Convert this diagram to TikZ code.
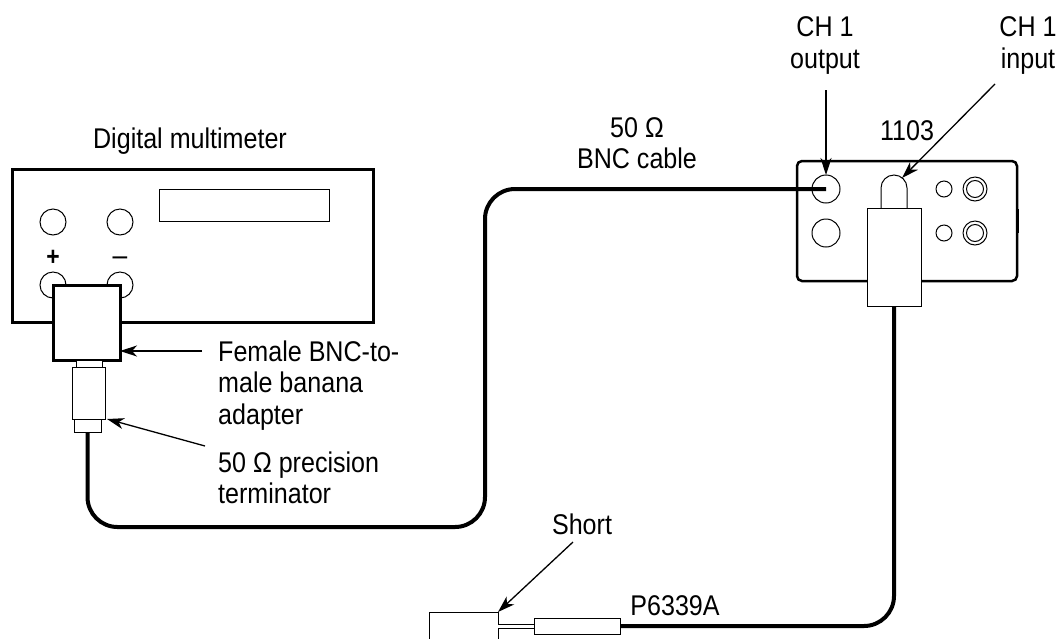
\documentclass[tikz,border=0pt]{standalone}
\usepackage{fontspec}
\setmainfont{Liberation Sans}[FakeStretch=0.88]
\usetikzlibrary{positioning}
\usetikzlibrary{arrows.meta}
\tikzset{
    boxthick/.style = {rectangle, line width=3pt, draw=black, fill=white, inner sep=0pt, outer sep=0pt},
    boxthin/.style = {rectangle, line width=1pt, draw=black, fill=white, inner sep=0pt, outer sep=0pt},
    jack/.style = {circle, line width=1pt, draw=black, fill=white, inner sep=0pt, outer sep=0pt},
    lbl/.style = {font=\fontsize{28.5}{31.5}\selectfont, align=center, inner sep=0pt, anchor=base},
    lbll/.style = {font=\fontsize{28.5}{31.5}\selectfont, align=left, inner sep=0pt, anchor=base west},
    cablen/.style = {-, line width=4pt, black, rounded corners=30pt},
    wiren/.style = {-, line width=1pt, black},
    pointer/.style = {-{Stealth[length=17pt,width=11pt,inset=5pt]}, line width=1.3pt, black}
}

\begin{document}
\begin{tikzpicture}[x=1pt,y=-1pt]
\useasboundingbox (0,0) rectangle (1059,638);
\clip (0,0) rectangle (1059,638);

% digital multimeter
\node[boxthick, minimum width=361pt, minimum height=153pt] at (192.5,245.5) (dmm) {};
\node[boxthin, minimum width=170pt, minimum height=32pt] at (244,205) (display) {};
\node[jack, minimum size=26pt] at ( 53,222) (jp1) {};
\node[jack, minimum size=26pt] at (120,222) (jm1) {};
\node[jack, minimum size=26pt] at ( 53,285) (jp2) {};
\node[jack, minimum size=26pt] at (120,285) (jm2) {};
\node[lbl, font=\fontsize{26}{28}\selectfont\bfseries] at ( 53,265) (plus) {+};
\node[lbl, font=\fontsize{30}{30}\selectfont] at (120,265) (minus) {\symbol{"2013}};
\node[boxthick, minimum width=67pt, minimum height=75pt] at (86.5,322.5) (adapter) {};
\node[boxthin, minimum width=26pt, minimum height=7pt] at (89,363.5) (neck) {};
\node[boxthin, minimum width=33pt, minimum height=52pt] at (88.5,393) (term) {};
\node[boxthin, minimum width=27pt, minimum height=13pt] at (87.5,425.5) (termtip) {};

% 1103
\node[boxthick, line width=2.5pt, rounded corners=5pt, minimum width=220pt, minimum height=120pt] at (907,221) (tek) {};
\draw[line width=2pt] ([xshift=1pt]tek.east) ++(0,-12) -- ++(0,24);
\node[jack, minimum size=28pt] at (826,189) (out) {};
\node[jack, minimum size=28pt] at (826,233) (outlow) {};
\node[jack, minimum size=16pt] at (944,189) (s1) {};
\node[jack, minimum size=16pt] at (944,233) (s2) {};
\node[jack, minimum size=24pt] at (975,189) (d1) {};
\node[jack, minimum size=17pt] at (975,189) (d1i) {};
\node[jack, minimum size=24pt] at (975,233) (d2) {};
\node[jack, minimum size=17pt] at (975,233) (d2i) {};
\draw[wiren, fill=white] (881,210) -- (881,188) arc[start angle=180, end angle=0, radius=13pt] -- (907,210);
\coordinate (intop) at (902,178);
\node[boxthin, minimum width=54pt, minimum height=98pt] at (894,257) (probe) {};

% probe tip and short
\node[boxthin, minimum width=86pt, minimum height=16pt] at (577,626) (tip) {};
\node[boxthin, minimum width=69pt, minimum height=44pt] at (463.5,634) (short) {};
\draw[wiren, double distance=3pt] (tip.west) -- (tip.west -| short.east);

% cables
\coordinate (bend) at (485,527);
\draw[cablen] (termtip.south) |- (bend) |- (out.center);
\draw[cablen] (probe.south) |- (tip.east);

% labels
\node[lbl] at (190,148) (ldmm) {Digital multimeter};
\node[lbl] at (825,68) (lout) {CH 1\\output};
\node[lbl] at (1028,68) (lin) {CH 1\\input};
\node[lbl] at (907,140) (ltek) {1103};
\node[lbl] at (637,168.5) (lcable) {50 Ω\\BNC cable};
\node[lbll] at (218,424) (lfem) {Female BNC-to-\\male banana\\adapter};
\node[lbll] at (218,503.5) (lterm) {50 Ω precision\\terminator};
\node[lbl] at (582,534) (lshort) {Short};
\node[lbl] at (675,615) (lprobe) {P6339A};

% pointers
\coordinate (femtail) at (202,351);
\coordinate (termtail) at (205,446);
\coordinate (outtail) at (826,90);
\coordinate (intail) at (995,84);
\coordinate (shorttail) at (573,542);
\draw[pointer] (femtail) -- (adapter.east |- femtail);
\draw[pointer] (termtail) -- ([xshift=2pt]term.south east);
\draw[pointer] (outtail) -- (out.north);
\draw[pointer] (intail) -- (intop);
\draw[pointer] (shorttail) -- (short.north east);

\end{tikzpicture}
\end{document}
